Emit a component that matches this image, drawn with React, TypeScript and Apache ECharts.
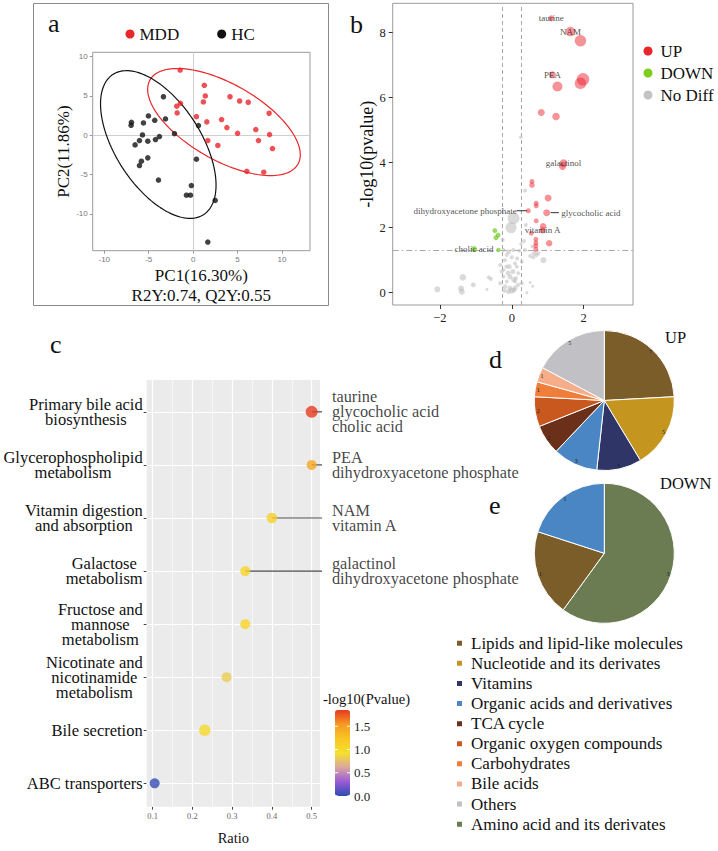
import React, { useEffect, useRef } from 'react';
import * as echarts from 'echarts';

const SERIF = 'Liberation Serif, Times New Roman, serif';
const SANS = 'Liberation Sans, Arial, sans-serif';

// ---------------- panel a (PCA) ----------------
const mddPoints = [
  [-1.46, 8.3], [1.26, 6.36], [1.37, 5.0], [1.15, 4.24], [4.15, 4.9], [5.23, 4.36], [6.2, 4.2],
  [-1.84, 3.7], [-1.43, 4.07], [-1.8, 2.84], [0.37, 2.37], [1.54, 1.7], [3.2, 2.0], [3.8, 0.97],
  [5.0, 0.25], [7.05, 0.72], [8.55, 2.8], [8.6, 0.08], [8.93, -1.7], [7.35, -0.68], [1.65, -0.68],
  [2.78, -1.3], [6.04, -4.6], [7.95, -4.7],
];
const hcPoints = [
  [-3.34, 4.9], [-3.11, 2.08], [-5.03, 2.46], [-4.32, 1.9], [-6.94, 1.65], [-6.98, 1.27], [-5.59, 1.57],
  [-2.1, 0.2], [0.6, 1.23], [-5.7, 0.04], [-6.04, -0.68], [-6.53, -1.23], [-5.1, -0.76], [-4.24, -0.55],
  [-3.79, -0.17], [-5.1, -2.88], [-5.82, -3.3], [-6.04, -3.86], [-3.9, -5.7], [0.37, -3.05], [-0.2, -6.4],
  [-0.75, -7.63], [-0.3, -7.63], [2.48, -8.3], [1.65, -13.6],
];
// confidence ellipses: centre + two conjugate semi-axis vectors (data units)
const mddEllipse = { cx: 3.47, cy: 1.68, ux: 8.32, uy: -5.37, vx: -2.12, vy: -4.2 };
const hcEllipse = { cx: -3.92, cy: -1.18, ux: 5.09, uy: -8.93, vx: -4.04, vy: -2.94 };
const pcaTicks = [-10, -5, 0, 5, 10];

// ---------------- panel b (volcano) ----------------
// [log2FC, -log10(p), size]
const upPoints = [
  [1.10, 8.44, 6], [1.63, 8.03, 9.5], [1.91, 7.75, 11.5], [1.13, 6.70, 7], [1.98, 6.56, 12.5],
  [1.91, 6.44, 11.5], [1.27, 6.34, 10], [0.82, 5.54, 7], [1.23, 5.42, 7.5], [1.44, 3.98, 8],
  [1.41, 3.88, 7], [0.56, 3.42, 5], [0.56, 3.31, 5.5], [1.01, 2.91, 7], [0.68, 2.75, 5],
  [0.68, 2.67, 5], [0.46, 2.52, 5], [0.97, 2.46, 7], [0.68, 2.21, 5], [0.87, 2.04, 6.5],
  [0.86, 1.92, 6.5], [0.54, 1.83, 5], [0.67, 1.64, 5], [0.67, 1.53, 5], [0.67, 1.44, 5],
  [0.67, 1.33, 5], [1.04, 1.52, 6.5],
];
const upNames = [
  'taurine', 'NAM', '', 'PEA', '', '', '', '', '', 'galactinol', '', '', '', '', '', '',
  'dihydroxyacetone phosphate', 'glycocholic acid', '', '', 'vitamin A', '', '', '', '', '', '',
];
const downPoints = [[-0.47, 1.91, 5], [-0.38, 1.77, 5], [-0.44, 1.69, 5], [-0.37, 1.31, 4.5], [-1.05, 1.34, 6]];
const downNames = ['', '', '', '', 'cholic acid'];
const noDiffPoints = [
  [0.25, 4.78, 3.5], [0.37, 3.14, 4], [0.05, 2.29, 12], [-0.02, 2.0, 11], [0.39, 2.08, 4], [-0.25, 1.62, 4],
  [0.34, 1.59, 4], [0.26, 1.5, 3.5], [-0.23, 1.31, 4], [-0.09, 1.26, 5], [0.04, 1.31, 4], [0.21, 1.29, 4],
  [0.37, 1.31, 4], [0.62, 1.21, 5], [0.60, 1.09, 4], [0.88, 1.0, 6], [-0.19, 1.0, 4], [0, 1.09, 4],
  [-0.32, 0.85, 4], [-0.07, 0.8, 5], [0.14, 0.8, 4], [-0.28, 0.65, 4], [0.03, 0.65, 5], [0.18, 0.6, 4],
  [-0.23, 0.49, 4], [-0.05, 0.49, 5], [0.12, 0.44, 4], [-1.36, 0.47, 6.5], [-0.64, 0.47, 4], [-0.58, 0.42, 4],
  [-1.07, 0.24, 5], [-0.69, 0.1, 3], [-1.41, 0.13, 6], [-1.39, 0.03, 6], [-2.07, 0.1, 6], [-0.32, 0.29, 4],
  [-0.19, 0.18, 5], [-0.05, 0.14, 5], [0.06, 0.08, 5], [0.18, 0.24, 4], [0.28, 0.29, 4], [-0.09, 0.03, 5],
  [0, 0.06, 6], [-0.14, 0.34, 4], [0.09, 0.34, 4], [-0.23, 0.7, 4], [0.09, 0.9, 4], [-0.14, 1.16, 4],
  [0.51, 1.13, 4], [0.69, 1.16, 4], [0.28, 0.95, 4], [0.51, 0.31, 3], [0.58, 0.2, 3], [0.42, 0.0, 3],
  [-0.1, 0.6, 5], [0.05, 0.4, 5], [-0.15, 0.8, 4], [0.1, 0.15, 5], [-0.2, 0.05, 4], [0.15, 1.05, 4],
  [0.58, 1.42, 4], [0.74, 1.21, 4],
];
const fcCut = 0.263;
const pCut = 1.301;
const volcanoXTicks = [-2, 0, 2];
const volcanoYTicks = [0, 2, 4, 6, 8];

// ---------------- panel c (pathway bubble) ----------------
const pathways = [
  'Primary bile acid\nbiosynthesis', 'Glycerophospholipid\nmetabolism', 'Vitamin digestion\nand absorption',
  'Galactose\nmetabolism', 'Fructose and\nmannose\nmetabolism', 'Nicotinate and\nnicotinamide\nmetabolism',
  'Bile secretion', 'ABC transporters',
];
const ratios = [0.5, 0.5, 0.4, 0.333, 0.333, 0.286, 0.231, 0.105];
const logP = [1.84, 1.45, 1.12, 1.05, 1.05, 0.82, 1.0, 0.02];
const dotSizes = [12, 10, 10.5, 10, 10, 10, 11.5, 10];
const pathwayHits = [
  ['taurine', 'glycocholic acid', 'cholic acid'], ['PEA', 'dihydroxyacetone phosphate'], ['NAM', 'vitamin A'],
  ['galactinol', 'dihydroxyacetone phosphate'], [], [], [], [],
];
const ratioTicks = [0.1, 0.2, 0.3, 0.4, 0.5];
const ratioMinor = [0.15, 0.25, 0.35, 0.45];
const colorbarTicks = [0, 0.5, 1.0, 1.5];

// ---------------- panels d/e (pies) ----------------
const pieCategories = [
  'Lipids and lipid-like molecules', 'Nucleotide and its derivates', 'Vitamins', 'Organic acids and derivatives',
  'TCA cycle', 'Organic oxygen compounds', 'Carbohydrates', 'Bile acids', 'Others', 'Amino acid and its derivates',
];
const pieColors = ['#7B5D29', '#C4961F', '#2F3566', '#4A86C4', '#6B3019', '#C9581F', '#EF7E3B', '#F6AE8A', '#C1C1C5', '#6B7C52'];
const upCounts = [7, 5, 3, 3, 2, 2, 1, 1, 5, 0];
const downOrder = ['Amino acid and its derivates', 'Lipids and lipid-like molecules', 'Organic acids and derivatives'];
const downCounts = [3, 1, 1];

function ellipsePoints(e: any) {
  const pts: number[][] = [];
  for (let k = 0; k <= 160; k++) {
    const t = (k / 160) * Math.PI * 2;
    pts.push([e.cx + e.ux * Math.cos(t) + e.vx * Math.sin(t), e.cy + e.uy * Math.cos(t) + e.vy * Math.sin(t)]);
  }
  return pts;
}

function buildOption() {
  const series: any[] = [];
  const n = pathways.length;

  // ---- panel a ----
  series.push({
    type: 'line', name: 'refA', xAxisIndex: 0, yAxisIndex: 0, data: [[0, 0]], symbol: 'none',
    lineStyle: { opacity: 0 }, silent: true, z: 1,
    markLine: {
      z: 1, silent: true, symbol: ['none', 'none'], label: { show: false },
      lineStyle: { color: '#cfcfcf', width: 1, type: 'solid' },
      data: [{ xAxis: 0 }, { yAxis: 0 }],
    },
  });
  series.push({
    type: 'line', name: 'mddEllipse', xAxisIndex: 0, yAxisIndex: 0, data: ellipsePoints(mddEllipse),
    symbol: 'none', lineStyle: { color: '#E8262B', width: 1.2 }, silent: true, z: 2,
  });
  series.push({
    type: 'line', name: 'hcEllipse', xAxisIndex: 0, yAxisIndex: 0, data: ellipsePoints(hcEllipse),
    symbol: 'none', lineStyle: { color: '#111', width: 1.2 }, silent: true, z: 2,
  });
  series.push({
    type: 'scatter', name: 'MDD', xAxisIndex: 0, yAxisIndex: 0, data: mddPoints, symbolSize: 5.5,
    itemStyle: { color: '#E8262B' }, z: 3,
  });
  series.push({
    type: 'scatter', name: 'HC', xAxisIndex: 0, yAxisIndex: 0, data: hcPoints, symbolSize: 5.5,
    itemStyle: { color: '#111' }, z: 3,
  });

  // ---- panel b ----
  series.push({
    type: 'line', name: 'refB', xAxisIndex: 1, yAxisIndex: 1, data: [[0, 0]], symbol: 'none',
    lineStyle: { opacity: 0 }, silent: true, z: 1,
    markLine: {
      z: 1, silent: true, symbol: ['none', 'none'], label: { show: false },
      data: [
        { xAxis: -fcCut, lineStyle: { color: '#a8a8a8', width: 1, type: [4, 3] } },
        { xAxis: fcCut, lineStyle: { color: '#a8a8a8', width: 1, type: [4, 3] } },
        { yAxis: pCut, lineStyle: { color: '#a8a8a8', width: 1, type: [6, 3, 1.5, 3] } },
      ],
    },
  });
  const vLabel = (name: string) => {
    if (!name) return undefined;
    const base: any = { show: true, formatter: name, fontFamily: SERIF, fontSize: 9, color: '#1a1a1a' };
    if (name === 'dihydroxyacetone phosphate') return { ...base, position: 'left', distance: 9 };
    if (name === 'glycocholic acid') return { ...base, position: 'right', distance: 11 };
    return { ...base, position: 'inside' };
  };
  series.push({
    type: 'scatter', name: 'No Diff', xAxisIndex: 1, yAxisIndex: 1,
    data: noDiffPoints.map((p) => ({ value: [p[0], p[1]], symbolSize: p[2] })),
    itemStyle: { color: 'rgba(185,185,185,0.65)' }, z: 2,
  });
  series.push({
    type: 'scatter', name: 'UP', xAxisIndex: 1, yAxisIndex: 1,
    data: upPoints.map((p, i) => ({ value: [p[0], p[1]], symbolSize: p[2], label: vLabel(upNames[i]) })),
    itemStyle: { color: 'rgba(234,37,48,0.62)' }, z: 3,
  });
  series.push({
    type: 'scatter', name: 'DOWN', xAxisIndex: 1, yAxisIndex: 1,
    data: downPoints.map((p, i) => ({ value: [p[0], p[1]], symbolSize: p[2], label: vLabel(downNames[i]) })),
    itemStyle: { color: 'rgba(108,201,31,0.85)' }, z: 3,
  });
  const leaderOffsets: Record<string, number[]> = {
    'dihydroxyacetone phosphate': [-0.32, -0.03],
    'glycocholic acid': [0.11, 0.34],
  };
  upPoints.forEach((p, i) => {
    const off = leaderOffsets[upNames[i]];
    if (!off) return;
    series.push({
      type: 'line', xAxisIndex: 1, yAxisIndex: 1, symbol: 'none', silent: true, z: 2,
      data: [[p[0] + off[0], p[1]], [p[0] + off[1], p[1]]], lineStyle: { color: '#333', width: 1 },
    });
  });

  // ---- panel c ----
  const catIdx = pathways.map((_, i) => n - 1 - i);
  series.push({
    type: 'line', name: 'gridC', xAxisIndex: 2, yAxisIndex: 2, data: [[0.3, 0]], symbol: 'none',
    lineStyle: { opacity: 0 }, silent: true, z: 1,
    markLine: {
      z: 1, silent: true, symbol: ['none', 'none'], label: { show: false },
      data: [
        ...ratioMinor.map((v) => ({ xAxis: v, lineStyle: { color: '#fff', width: 0.6, type: 'solid' } })),
        ...ratioTicks.map((v) => ({ xAxis: v, lineStyle: { color: '#fff', width: 1.2, type: 'solid' } })),
        ...catIdx.map((v) => ({ yAxis: v, lineStyle: { color: '#fff', width: 1.2, type: 'solid' } })),
      ],
    },
  });
  const bracketX = 0.546;
  pathwayHits.forEach((hits, i) => {
    if (!hits.length) return;
    const y = catIdx[i];
    const h = hits.length > 2 ? 0.3 : 0.27;
    series.push({
      type: 'line', xAxisIndex: 2, yAxisIndex: 2, symbol: 'none', silent: true, clip: false, z: 2,
      data: [[ratios[i], y], [bracketX, y]], lineStyle: { color: '#4a4a4a', width: 1.2 },
    });
    series.push({
      type: 'line', xAxisIndex: 2, yAxisIndex: 2, symbol: 'none', silent: true, clip: false, z: 2,
      data: [[bracketX, y - h], [bracketX, y + h]], lineStyle: { color: '#8a8a8a', width: 1 },
    });
  });
  series.push({
    type: 'scatter', name: 'hitsText', xAxisIndex: 2, yAxisIndex: 2, clip: false, silent: true, z: 3,
    symbolSize: 0,
    data: pathwayHits.map((hits, i) => (hits.length ? {
      value: [bracketX, catIdx[i]],
      label: {
        show: true, position: 'right', distance: 2, formatter: hits.join('\n'),
        fontFamily: SERIF, fontSize: 16.3, lineHeight: 15, color: '#111', align: 'left',
      },
    } : null)).filter(Boolean),
  });
  const dotsIndex = series.length;
  series.push({
    type: 'scatter', name: 'pathwayDots', xAxisIndex: 2, yAxisIndex: 2, z: 4,
    data: pathways.map((_, i) => ({ value: [ratios[i], catIdx[i], logP[i]], symbolSize: dotSizes[i] })),
  });

  // ---- pies ----
  const upData = pieCategories
    .map((c, i) => ({ name: c, value: upCounts[i], itemStyle: { color: pieColors[i] } }))
    .filter((d) => d.value > 0);
  const downData = downOrder.map((c, i) => ({
    name: c, value: downCounts[i], itemStyle: { color: pieColors[pieCategories.indexOf(c)] },
  }));
  const pieBase = {
    type: 'pie', startAngle: 90, clockwise: true, silent: true,
    label: { show: false }, labelLine: { show: false }, emphasis: { disabled: true },
    itemStyle: { borderColor: '#fff', borderWidth: 1 },
  };
  const pieLabelBase = {
    type: 'pie', startAngle: 90, clockwise: true, silent: true, legendHoverLink: false,
    itemStyle: { color: 'rgba(0,0,0,0)', borderWidth: 0 }, emphasis: { disabled: true },
    label: { show: true, position: 'inside', formatter: '{c}', fontSize: 6, color: '#222', fontFamily: SERIF },
    labelLine: { show: false },
  };
  const upCenter = [604.3, 400.5];
  const downCenter = [604.3, 553.3];
  series.push({ ...pieBase, name: 'UPpie', center: upCenter, radius: [0, 70], data: upData });
  series.push({ ...pieBase, name: 'DOWNpie', center: downCenter, radius: [0, 70], data: downData });
  series.push({
    ...pieLabelBase, name: 'UPlab', center: upCenter, radius: [58, 70],
    data: upData.map((d, i) => ({ name: 'u' + i, value: d.value })),
  });
  series.push({
    ...pieLabelBase, name: 'DOWNlab', center: downCenter, radius: [58, 70],
    data: downData.map((d, i) => ({ name: 'd' + i, value: d.value })),
  });

  // ---- colour bar geometry ----
  const vm = { left: 335, top: 710, width: 15, height: 86, max: 1.85 };
  const barY = (v: number) => vm.top + vm.height * (1 - v / vm.max);

  const letter = (t: string, x: number, y: number) => ({
    type: 'text', x, y, style: { text: t, fontFamily: SERIF, fontSize: 26, fill: '#111', verticalAlign: 'middle' }, silent: true,
  });

  const graphic: any[] = [
    { type: 'rect', shape: { x: 33.5, y: 3.5, width: 295, height: 302 }, style: { fill: 'none', stroke: '#8a8a8a', lineWidth: 1 }, silent: true },
    letter('a', 48, 23),
    letter('b', 350, 24),
    letter('c', 50, 344),
    letter('d', 489, 359),
    letter('e', 489, 505),
    { type: 'text', x: 665, y: 337, style: { text: 'UP', fontFamily: SERIF, fontSize: 16.5, fill: '#111', verticalAlign: 'middle' }, silent: true },
    { type: 'text', x: 660, y: 483, style: { text: 'DOWN', fontFamily: SERIF, fontSize: 16.5, fill: '#111', verticalAlign: 'middle' }, silent: true },
    { type: 'text', x: 323, y: 699, style: { text: '-log10(Pvalue)', fontFamily: SERIF, fontSize: 14.5, fill: '#111', verticalAlign: 'middle' }, silent: true },
    ...colorbarTicks.map((v) => ({
      type: 'text', x: vm.left + vm.width + 4, y: barY(v),
      style: { text: v.toFixed(1), fontFamily: SERIF, fontSize: 13, fill: '#222', verticalAlign: 'middle' }, silent: true, z: 10,
    })),
    ...colorbarTicks.map((v) => ({
      type: 'line', shape: { x1: vm.left, y1: barY(v), x2: vm.left + 3, y2: barY(v) }, style: { stroke: '#fff', lineWidth: 1 }, silent: true, z: 10,
    })),
    ...colorbarTicks.map((v) => ({
      type: 'line', shape: { x1: vm.left + vm.width - 3, y1: barY(v), x2: vm.left + vm.width, y2: barY(v) }, style: { stroke: '#fff', lineWidth: 1 }, silent: true, z: 10,
    })),
  ];

  const minus = (v: number) => String(v).replace('-', '\u2212');
  const noLine = { show: false, onZero: false };

  return {
    animation: false,
    backgroundColor: '#fff',
    grid: [
      { left: 92.7, top: 52.3, width: 217.3, height: 198.4, show: true, borderColor: '#9a9a9a', borderWidth: 1, backgroundColor: '#fff' },
      { left: 392.7, top: 3.3, width: 240.3, height: 301.7, show: true, borderColor: '#9a9a9a', borderWidth: 1, backgroundColor: '#fff' },
      { left: 146.7, top: 380, width: 173.3, height: 426.7, show: true, borderWidth: 0, backgroundColor: '#EBEBEB' },
    ],
    xAxis: [
      {
        gridIndex: 0, type: 'value', min: -11.3, max: 13.15,
        axisLine: noLine, splitLine: { show: false },
        axisTick: { show: true, length: 3, lineStyle: { color: '#999' }, customValues: pcaTicks },
        axisLabel: { customValues: pcaTicks, fontSize: 8, color: '#777', fontFamily: SANS, margin: 5 },
        name: 'PC1(16.30%)\nR2Y:0.74, Q2Y:0.55', nameLocation: 'middle', nameGap: 15,
        nameTextStyle: { fontFamily: SERIF, fontSize: 17, color: '#111', lineHeight: 20 },
      },
      {
        gridIndex: 1, type: 'value', min: -3.31, max: 3.37,
        axisLine: noLine, splitLine: { show: false },
        axisTick: { show: true, length: 4, lineStyle: { color: '#333' }, customValues: volcanoXTicks },
        axisLabel: { customValues: volcanoXTicks, fontSize: 12.5, color: '#222', fontFamily: SERIF, margin: 6, formatter: minus },
      },
      {
        gridIndex: 2, type: 'value', min: 0.085, max: 0.521,
        axisLine: noLine, splitLine: { show: false },
        axisTick: { show: true, length: 3, lineStyle: { color: '#444' }, customValues: ratioTicks },
        axisLabel: { customValues: ratioTicks, fontSize: 8.5, color: '#666', fontFamily: SERIF, margin: 5 },
        name: 'Ratio', nameLocation: 'middle', nameGap: 24,
        nameTextStyle: { fontFamily: SERIF, fontSize: 14.5, color: '#111' },
      },
    ],
    yAxis: [
      {
        gridIndex: 0, type: 'value', min: -14.7, max: 10.56,
        axisLine: noLine, splitLine: { show: false },
        axisTick: { show: true, length: 3, lineStyle: { color: '#999' }, customValues: pcaTicks },
        axisLabel: { customValues: pcaTicks, fontSize: 8, color: '#777', fontFamily: SANS, margin: 5 },
        name: 'PC2(11.86%)', nameLocation: 'middle', nameGap: 16,
        nameTextStyle: { fontFamily: SERIF, fontSize: 17, color: '#111' },
      },
      {
        gridIndex: 1, type: 'value', min: -0.38, max: 8.9,
        axisLine: noLine, splitLine: { show: false },
        axisTick: { show: true, length: 4, lineStyle: { color: '#333' }, customValues: volcanoYTicks },
        axisLabel: { customValues: volcanoYTicks, fontSize: 12.5, color: '#222', fontFamily: SERIF, margin: 7 },
        name: '-log10(pvalue)', nameLocation: 'middle', nameGap: 17,
        nameTextStyle: { fontFamily: SERIF, fontSize: 18, color: '#111' },
      },
      {
        gridIndex: 2, type: 'value', min: -0.44, max: 7.6,
        axisLine: noLine, splitLine: { show: false },
        axisTick: { show: true, length: 3, lineStyle: { color: '#444' }, customValues: catIdx.slice().reverse() },
        axisLabel: {
          customValues: catIdx.slice().reverse(), margin: 4, align: 'right',
          fontFamily: SERIF, fontSize: 16.5, lineHeight: 15, color: '#111',
          formatter: (v: number) => {
            const i = n - 1 - Math.round(v);
            return pathways[i].split('\n').map((s) => `{c|${s}}`).join('\n');
          },
          rich: { c: { align: 'center', fontFamily: SERIF, fontSize: 16.5, lineHeight: 15, color: '#111' } },
        },
      },
    ],
    visualMap: [{
      type: 'continuous', min: 0, max: vm.max, dimension: 2, seriesIndex: [dotsIndex],
      inRange: { color: ['#2D4BB4', '#9A5BD6', '#D9A8A0', '#F6E02C', '#F8C623', '#F59A22', '#E6391F'] },
      left: vm.left, top: vm.top, itemWidth: vm.width, itemHeight: vm.height, padding: 0,
      calculable: false, orient: 'vertical', text: ['', ''], showLabel: false, hoverLink: false,
    }],
    legend: [
      {
        left: 125.5, top: 25, itemWidth: 9, itemHeight: 9, icon: 'circle', itemGap: 38, padding: 0,
        selectedMode: false, textStyle: { fontFamily: SERIF, fontSize: 17, color: '#111', lineHeight: 18 },
        data: [
          { name: 'MDD', itemStyle: { color: '#E8262B', opacity: 1 } },
          { name: 'HC', itemStyle: { color: '#111', opacity: 1 } },
        ],
      },
      {
        orient: 'vertical', left: 643.5, top: 42, itemWidth: 9, itemHeight: 9, icon: 'circle', itemGap: 4, padding: 0,
        selectedMode: false, textStyle: { fontFamily: SERIF, fontSize: 17, color: '#111', lineHeight: 18, padding: [0, 0, 0, 3] },
        data: [
          { name: 'UP', itemStyle: { color: '#E8262B', opacity: 1 } },
          { name: 'DOWN', itemStyle: { color: '#7CCD1F', opacity: 1 } },
          { name: 'No Diff', itemStyle: { color: '#C4C4C4', opacity: 1 } },
        ],
      },
      {
        orient: 'vertical', left: 455, top: 634.7, itemWidth: 7, itemHeight: 7, icon: 'rect', itemGap: 3, padding: 0,
        selectedMode: false, textStyle: { fontFamily: SERIF, fontSize: 17, color: '#111', lineHeight: 17.1, padding: [0, 0, 0, 3] },
        data: pieCategories.map((c, i) => ({ name: c, itemStyle: { color: pieColors[i] } })),
      },
    ],
    graphic,
    series,
  };
}

export default function App() {
  const ref = useRef<HTMLDivElement>(null);
  useEffect(() => {
    if (!ref.current) return;
    const chart = echarts.init(ref.current, null, { renderer: 'svg', width: 718, height: 851 });
    chart.setOption(buildOption() as any);
    return () => chart.dispose();
  }, []);
  return (
    <div
      ref={ref}
      style={{ position: 'absolute', left: 0, top: 0, width: 718, height: 851, background: '#fff' }}
    />
  );
}
